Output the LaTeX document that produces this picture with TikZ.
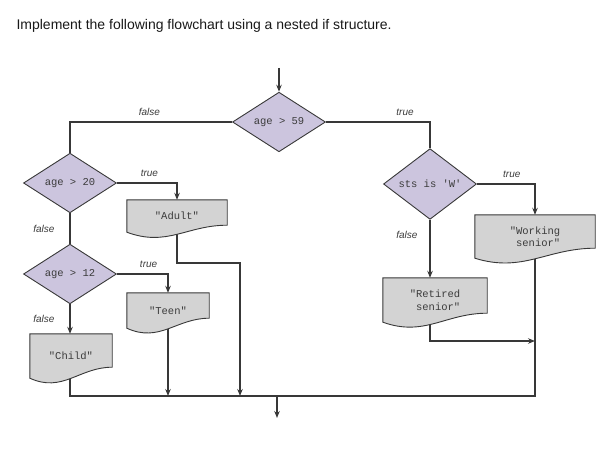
\documentclass[tikz,border=0pt]{standalone}
\usepackage{fontspec}
\setmainfont{Liberation Sans}
\setmonofont{Liberation Mono}
\usetikzlibrary{shapes.geometric, arrows.meta, positioning, calc}
\definecolor{lineGray}{HTML}{383838}
\definecolor{textGray}{HTML}{3C3C3C}
\definecolor{decisionLilac}{HTML}{CCC5DE}
\definecolor{outputGray}{HTML}{D3D3D3}
\pgfdeclarelayer{lines}
\pgfdeclarelayer{boxes}
\pgfsetlayers{lines,boxes,main}

\begin{document}
\begin{tikzpicture}[
        x=1pt, y=-1pt,
        decision/.style={diamond, draw=lineGray, fill=decisionLilac, line width=0.9pt,
                         minimum width=93pt, minimum height=56pt, inner sep=0pt,
                         text=textGray, font=\ttfamily\fontsize{10.5}{12}\selectfont},
        output/.style={rectangle, inner sep=0pt, align=right, text=textGray,
                       font=\ttfamily\fontsize{10.5}{12.5}\selectfont},
        docline/.style={draw=lineGray, fill=outputGray, line width=0.9pt},
        flow/.style={draw=lineGray, line width=1.1pt},
        arrow/.style={flow, -{Stealth[length=7pt, width=5.5pt]}},
        lbl/.style={font=\itshape\fontsize{10}{12}\selectfont, text=textGray, inner sep=1pt}
      ]
        \useasboundingbox (0,0) rectangle (615,449);
        \node[anchor=base west, font=\fontsize{14}{16}\selectfont, text=black!90] (title) at (13,29.5)
          {Implement the following flowchart using a nested if structure.};

        \node[decision] (q59) at (279,122) {age > 59};
        \node[decision] (q20) at (70,183) {age > 20};
        \node[decision] (q12) at (70,274) {age > 12};
        \node[decision] (qsts) at (430,184) {sts is 'W'};

        \node[output, minimum width=100pt, minimum height=32pt] (adult) at (177,216) {"Adult"};
        \node[output, minimum width=82pt, minimum height=35pt] (teen) at (168,310.5) {"Teen"};
        \node[output, minimum width=82pt, minimum height=44pt] (child) at (71,356) {"Child"};
        \node[output, minimum width=120pt, minimum height=43pt] (working) at (535,236.5) {"Working\\senior"};
        \node[output, minimum width=104pt, minimum height=44pt] (retired) at (435,300) {"Retired\\senior"};

        \coordinate (entry) at (279,68);
        \coordinate (jadult) at (240,263);
        \coordinate (jretired) at (430,341);
        \coordinate (jright) at (535,396);
        \coordinate (jexit) at (277,396);
        \coordinate (stop) at (277,418);

        \begin{pgfonlayer}{boxes}
          \foreach \n/\r in {adult/7, teen/10, child/11, working/10, retired/9}
            \draw[docline] (\n.north west) -- (\n.north east) -- ([yshift=\r pt]\n.south east)
              .. controls ($([yshift=\r pt]\n.south east)!0.4!([yshift=\r pt]\n.south west)$)
              and ($(\n.south west)!0.4!(\n.south east)+(0pt,-15pt)$) .. (\n.south west) -- cycle;
        \end{pgfonlayer}

        \begin{pgfonlayer}{lines}
          \draw[arrow] (entry) -- (q59.north);
          \draw[flow] (q59.west) -| node[lbl, above=5pt, pos=0.255] {false} (q20.north);
          \draw[flow] (q59.east) -| node[lbl, above=5pt, pos=0.38] {true} (qsts.north);
          \draw[arrow] (q20.east) -| node[lbl, above=5pt, pos=0.27] {true} (adult.north);
          \draw[flow] (q20.south) -- node[lbl, left=14pt] {false} (q12.north);
          \draw[arrow] (q12.east) -| node[lbl, above=5pt, pos=0.31] {true} (teen.north);
          \draw[arrow] (q12.south) -- node[lbl, left=14pt] {false} (q12.south |- child.north);
          \draw[arrow] (qsts.east) -| node[lbl, above=5pt, pos=0.3] {true} (working.north);
          \draw[arrow] (qsts.south) -- node[lbl, left=11pt, pos=0.26] {false} (qsts.south |- retired.north);
          \draw[arrow] (adult.south) |- (jadult) -- (jadult |- jright);
          \draw[arrow] (teen.south) -- (teen.south |- jright);
          \draw[flow] (child.south -| q12.south) |- (jright) -- (working.south);
          \draw[arrow] (retired.south -| qsts.south) -- (jretired) -- (jretired -| working.south);
          \draw[arrow] (jexit) -- (stop);
        \end{pgfonlayer}
      \end{tikzpicture}
\end{document}
